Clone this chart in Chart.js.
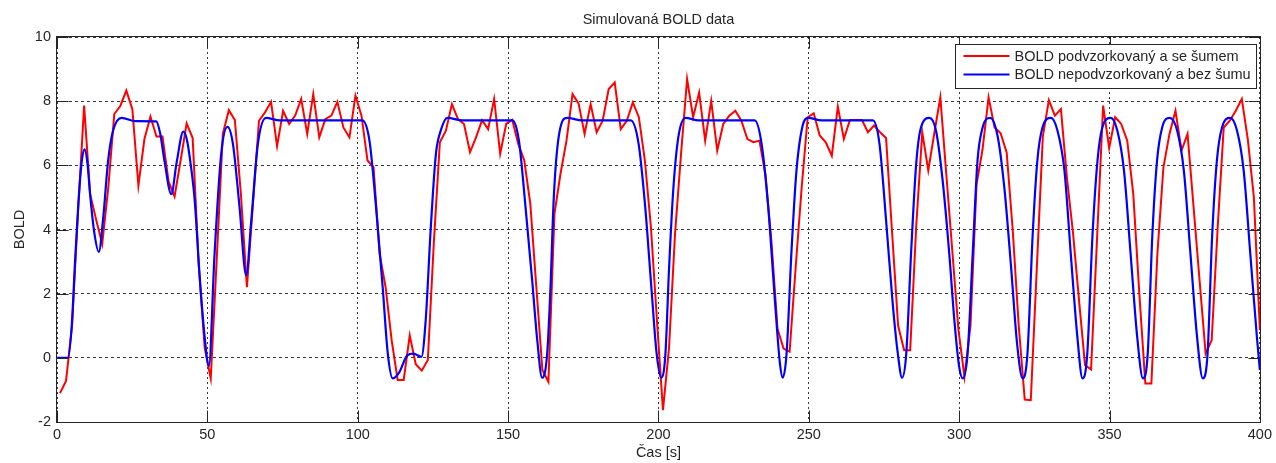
<!DOCTYPE html>
<html>
<head>
<meta charset="utf-8">
<title>Simulovaná BOLD data</title>
<script src="https://cdn.jsdelivr.net/npm/chart.js@4.4.1/dist/chart.umd.min.js"></script>
<style>
    html, body { margin: 0; padding: 0; background: #fff; }
    #wrap { width: 1276px; height: 463px; }
</style>
</head>
<body>
<div id="wrap"><canvas id="canvas"></canvas></div>
<script>
const xTicks = [0, 50, 100, 150, 200, 250, 300, 350, 400];
const yTicks = [-2, 0, 2, 4, 6, 8, 10];

const chartTitle = 'Simulovaná BOLD data';
const redLabel = 'BOLD podvzorkovaný a se šumem';
const blueLabel = 'BOLD nepodvzorkovaný a bez šumu';

// podvzorkovany signal: 200 vzorku rovnomerne mezi 1 s a 400 s
const redTime = Array.from({ length: 200 }, (_, i) => 1 + i * 399 / 199);
const redBold = [
    -1.1, -0.72, 1.0, 4.6, 7.86, 5.1, 4.3, 3.55, 5.3, 7.6,
    7.85, 8.33, 7.75, 5.37, 6.82, 7.52, 6.9, 6.9, 5.5, 5.03,
    6.15, 7.31, 6.85, 2.9, 0.3, -0.64, 3.1, 6.98, 7.72, 7.41,
    5.1, 2.2, 4.8, 7.39, 7.65, 7.98, 6.6, 7.7, 7.29, 7.55,
    8.07, 6.98, 8.22, 6.87, 7.44, 7.55, 7.98, 7.18, 6.87, 8.17,
    7.55, 6.15, 5.94, 3.25, 2.2, 0.55, -0.69, -0.69, 0.7, -0.2,
    -0.4, -0.07, 3.6, 6.72, 7.08, 7.91, 7.44, 7.29, 6.41, 6.87,
    7.41, 7.13, 8.07, 6.36, 7.29, 7.42, 6.67, 6.15, 4.8, 2.2,
    -0.38, -0.75, 4.49, 5.73, 6.77, 8.22, 7.93, 6.98, 7.91, 7.03,
    7.39, 8.38, 8.58, 7.13, 7.39, 7.96, 7.5, 6.15, 4.07, 1.17,
    -1.63, 0.3, 3.87, 6.36, 8.69, 7.5, 8.27, 6.77, 8.01, 6.46,
    7.29, 7.55, 7.7, 7.39, 6.82, 6.72, 6.77, 5.7, 3.6, 0.9,
    0.29, 0.19, 2.8, 5.3, 7.5, 7.62, 6.93, 6.72, 6.3, 7.83,
    6.82, 7.41, 7.41, 7.41, 7.03, 7.24, 7.03, 6.85, 3.9, 1.0,
    0.24, 0.24, 4.1, 7.03, 5.84, 7.0, 8.12, 5.7, 3.3, 0.88,
    -0.59, 1.0, 5.4, 6.5, 8.12, 7.18, 7.0, 6.4, 4.0, 1.0,
    -1.3, -1.32, 2.8, 6.9, 8.03, 7.55, 7.75, 5.6, 3.9, 1.8,
    -0.23, -0.36, 3.76, 7.86, 6.54, 7.5, 7.29, 6.77, 5.1, 2.0,
    -0.8, -0.8, 3.25, 5.94, 6.98, 7.7, 6.46, 6.98, 4.7, 2.4,
    0.13, 0.55, 4.07, 7.18, 7.39, 7.7, 8.07, 6.8, 5.0, 0.86,
];

// plny signal bez sumu (uzlove body krivky)
const blueTime = [
    0, 3.6, 4.9, 6, 7.1, 8.2, 9.2, 10.2, 11, 12.4, 13.9, 15.4, 17, 18.7, 21.5, 26, 33,
    34.3, 35.8, 38, 39.8, 42, 43.2, 44.5, 45.8, 47.4, 49.1, 50.5,
    52.4, 54.6, 56.7, 58.5, 60.7, 62.9, 64.6, 66.8, 69.5, 74, 101.5,
    103.9, 106, 108.3, 110, 111.6, 113.8, 116.5, 118.5, 121.2,
    122.6, 124.3, 126, 127.6, 129.8, 134.8, 151.4,
    153.6, 155.8, 158, 159.7, 161.3, 163, 164.1, 165.2, 166.8, 169.6, 174.6, 190.8,
    193.4, 195.6, 197.8, 199.4, 200.9, 202.3, 203.5, 204.9, 206.6, 209, 213.3, 232,
    234.3, 236.5, 238.8, 240.4, 241.3, 242.6, 244.2, 245.9, 247.8, 249.8, 254.2, 271.3,
    273.5, 275.7, 277.9, 279.6, 281, 282.4, 284, 285.7, 287.3, 290.1,
    292.3, 294.5, 296.7, 298.4, 300, 301.2, 302.8, 304.5, 306.1, 307.8, 310.3,
    312.8, 315, 317.2, 319.3, 321.1, 322.7, 324.4, 326, 327.7, 330.5,
    332.7, 335, 337.1, 339.3, 341, 342.6, 344.3, 346, 347.6, 350.4,
    352.6, 354.8, 357, 359.2, 361.1, 362.7, 364.2, 365.8, 367.5, 370,
    372.5, 374.7, 376.9, 379.1, 381, 382.6, 384.1, 385.7, 387.4, 390.1,
    392.4, 394.6, 396.8, 399, 400,
];
const blueBold = [
    0, 0, 1.0, 3.0, 4.8, 6.1, 6.5, 6.0, 5.1, 3.9, 3.3, 4.4, 6.15, 7.1, 7.48, 7.38, 7.37,
    7.0, 6.1, 5.1, 6.1, 7.05, 6.8, 6.0, 4.9, 2.6, 0.65, -0.25,
    3.25, 6.36, 7.2, 6.67, 4.7, 2.57, 4.28, 6.67, 7.48, 7.4, 7.4,
    6.77, 4.8, 2.2, 0.13, -0.64, -0.45, 0.08, 0.13, 0.03,
    1.17, 4.07, 6.36, 7.08, 7.48, 7.4, 7.4,
    6.77, 4.7, 2.42, 0.55, -0.62, 0.13, 2.2, 5.0, 6.87, 7.48, 7.4, 7.4,
    6.67, 4.7, 2.0, 0.13, -0.62, 0.1, 2.73, 5.2, 6.87, 7.48, 7.4, 7.4,
    6.67, 4.7, 1.69, -0.18, -0.62, 0.13, 3.25, 5.84, 7.18, 7.48, 7.4, 7.4,
    6.67, 4.28, 1.69, 0.13, -0.62, 0.13, 3.25, 6.04, 7.18, 7.48,
    7.08, 5.53, 3.25, 1.17, -0.28, -0.64, 0.13, 3.25, 6.15, 7.18, 7.48,
    6.9, 5.32, 2.9, 0.4, -0.64, 0.13, 3.76, 6.15, 7.18, 7.48,
    7.08, 5.84, 3.25, 0.65, -0.64, 0.13, 3.76, 6.15, 7.18, 7.48,
    7.08, 5.84, 3.25, 0.65, -0.64, 0.13, 3.76, 6.15, 7.18, 7.48,
    7.08, 5.84, 3.25, 0.65, -0.64, 0.13, 3.76, 6.15, 7.18, 7.48,
    7.08, 5.84, 3.25, 0.65, -0.38,
];

const textColor = '#262626';
const fontFamily = '"Liberation Sans", Arial, Helvetica, sans-serif';
const fontSize = 14.5;
Chart.defaults.font.family = fontFamily;
Chart.defaults.font.size = fontSize;
Chart.defaults.color = textColor;

const toPoints = (xs, ys) => xs.map((x, i) => ({ x: x, y: ys[i] }));

// titulek, ramecek os, vnitrni carky u popisku a legenda ve stylu MATLABu
const matlabAxes = {
    id: 'matlabAxes',
    afterDraw(chart) {
        const { ctx, chartArea: a, scales } = chart;
        const left = Math.round(a.left) - 0.5;
        const right = Math.round(a.right) + 0.5;
        const top = Math.round(a.top) - 0.5;
        const bottom = Math.round(a.bottom) + 0.5;
        const tick = 12;

        ctx.save();
        ctx.font = fontSize + 'px ' + fontFamily;
        ctx.fillStyle = textColor;
        ctx.textAlign = 'center';
        ctx.textBaseline = 'middle';
        ctx.fillText(chartTitle, (a.left + a.right) / 2, 20);

        ctx.strokeStyle = textColor;
        ctx.lineWidth = 1;
        ctx.setLineDash([]);
        ctx.strokeRect(left, top, right - left, bottom - top);

        ctx.beginPath();
        xTicks.forEach(function (v) {
            const px = Math.round(scales.x.getPixelForValue(v)) + 0.5;
            ctx.moveTo(px, bottom);
            ctx.lineTo(px, bottom - tick);
            ctx.moveTo(px, top);
            ctx.lineTo(px, top + tick);
        });
        yTicks.forEach(function (v) {
            const py = Math.round(scales.y.getPixelForValue(v)) + 0.5;
            ctx.moveTo(left, py);
            ctx.lineTo(left + tick, py);
            ctx.moveTo(right, py);
            ctx.lineTo(right - tick, py);
        });
        ctx.stroke();

        // legenda
        const items = [chart.data.datasets[0], chart.data.datasets[1]];
        const textW = Math.max.apply(null, items.map(d => ctx.measureText(d.label).width));
        const boxW = Math.round(59 + textW + 6);
        const boxH = 44;
        const bx = right - 4 - boxW;
        const by = top + 8;
        ctx.fillStyle = '#fff';
        ctx.fillRect(bx, by, boxW, boxH);
        ctx.strokeStyle = textColor;
        ctx.strokeRect(bx, by, boxW, boxH);

        ctx.textAlign = 'left';
        items.forEach(function (d, i) {
            const ly = by + 11.5 + i * 18.6;
            ctx.strokeStyle = d.borderColor;
            ctx.lineWidth = 2;
            ctx.beginPath();
            ctx.moveTo(bx + 8, ly);
            ctx.lineTo(bx + 54, ly);
            ctx.stroke();
            ctx.fillStyle = textColor;
            ctx.fillText(d.label, bx + 59, ly + 0.5);
        });
        ctx.restore();
    }
};

const data = {
    datasets: [
        {
            label: redLabel,
            data: toPoints(redTime, redBold),
            borderColor: '#ff0000',
            backgroundColor: '#ff0000',
            borderWidth: 2,
            pointRadius: 0,
            tension: 0,
            order: 2,
        },
        {
            label: blueLabel,
            data: toPoints(blueTime, blueBold),
            borderColor: '#0000ff',
            backgroundColor: '#0000ff',
            borderWidth: 2.2,
            pointRadius: 0,
            cubicInterpolationMode: 'monotone',
            order: 1,
        },
    ],
};

const config = {
    type: 'line',
    data: data,
    options: {
        responsive: true,
        maintainAspectRatio: false,
        devicePixelRatio: 1,
        animation: false,
        parsing: false,
        layout: { padding: { left: 0, right: 13, top: 37, bottom: 0 } },
        plugins: {
            legend: { display: false },
            tooltip: { enabled: false },
            title: { display: false },
        },
        scales: {
            x: {
                type: 'linear',
                min: 0,
                max: 400,
                afterBuildTicks: s => { s.ticks = xTicks.map(v => ({ value: v })); },
                afterFit: s => { s.height = 41; },
                ticks: { color: textColor, padding: 4, maxRotation: 0 },
                grid: { color: 'rgba(0,0,0,0.78)', lineWidth: 1, drawTicks: false },
                border: { display: false, dash: [2, 3] },
                title: {
                    display: true,
                    text: 'Čas [s]',
                    color: textColor,
                    padding: { top: 0, bottom: 1 },
                },
            },
            y: {
                type: 'linear',
                min: -2,
                max: 10,
                afterBuildTicks: s => { s.ticks = yTicks.map(v => ({ value: v })); },
                afterFit: s => { s.width = 57; },
                ticks: { color: textColor, padding: 6 },
                grid: { color: 'rgba(0,0,0,0.78)', lineWidth: 1, drawTicks: false },
                border: { display: false, dash: [3, 3] },
                title: {
                    display: true,
                    text: 'BOLD',
                    color: textColor,
                    padding: { top: 11, bottom: 0 },
                },
            },
        },
    },
    plugins: [matlabAxes],
};

const canvas = document.getElementById('canvas');
const chart = new Chart(canvas, config);
</script>
</body>
</html>
